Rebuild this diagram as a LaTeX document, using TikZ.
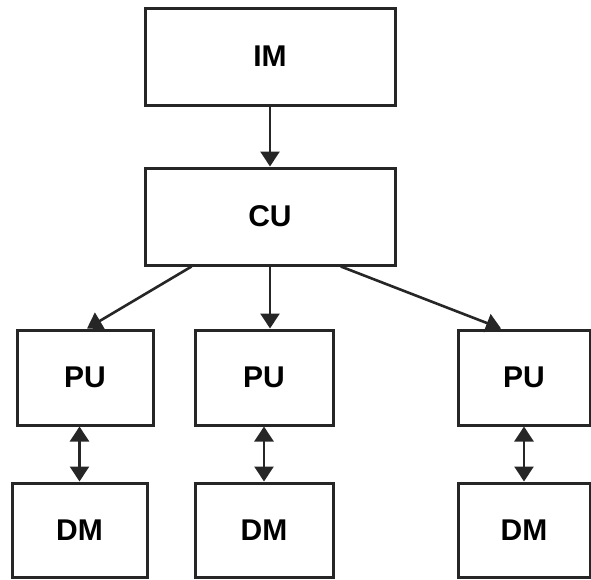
\documentclass[tikz,border=0pt]{standalone}
\usepackage{fontspec}
\setmainfont{Liberation Sans}
\usetikzlibrary{arrows.meta,calc}
\begin{document}
\begin{tikzpicture}[x=1pt,y=-1pt,
  blk/.style={draw=black!85,line width=3pt,inner sep=0pt,font=\fontsize{30}{32}\selectfont\bfseries},
  conn/.style={line width=2.6pt,draw=black!85,-{Triangle[length=15pt,width=19pt]}},
  dconn/.style={line width=2.6pt,draw=black!85,{Triangle[length=15pt,width=19pt]}-{Triangle[length=15pt,width=19pt]}}]
\useasboundingbox (0,0) rectangle (591,579);
\node[blk,minimum width=250pt,minimum height=97pt] (IM) at (270,56.5) {IM};
\node[blk,minimum width=250pt,minimum height=97pt] (CU) at (270,216.5) {CU};
\node[blk,minimum width=136pt,minimum height=95pt] (PU1) at (85,377.5) {PU};
\node[blk,minimum width=138pt,minimum height=95pt] (PU2) at (264,377.5) {PU};
\node[blk,minimum width=132pt,minimum height=95pt] (PU3) at (524,377.5) {PU};
\node[blk,minimum width=135pt,minimum height=94pt] (DM1) at (79.5,530) {DM};
\node[blk,minimum width=138pt,minimum height=94pt] (DM2) at (264,530) {DM};
\node[blk,minimum width=132pt,minimum height=94pt] (DM3) at (524,530) {DM};
\draw[conn] (IM.south) -- (CU.north);
\draw[conn] ($(CU.south west)!0.19!(CU.south east)$) -- ($(PU1.north)+(2,0)$);
\draw[conn] (CU.south) -- (CU.south |- PU2.north);
\draw[conn] ($(CU.south west)!0.78!(CU.south east)$) -- ($(PU3.north west)!0.33!(PU3.north east)$);
\draw[dconn] (DM1.north |- PU1.south) -- (DM1.north);
\draw[dconn] (PU2.south) -- (DM2.north);
\draw[dconn] (PU3.south) -- (DM3.north);
\end{tikzpicture}
\end{document}
